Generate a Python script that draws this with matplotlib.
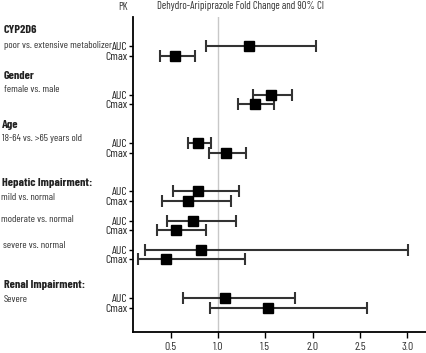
import matplotlib
matplotlib.use("Agg")
import matplotlib.pyplot as plt
from matplotlib import font_manager

fl = font_manager.fontManager.ttflist
names = {f.name for f in fl}
bold_names = {f.name for f in fl if f.weight in (700, 'bold')}
reg_prefs = ['Liberation Sans Narrow', 'Arial Narrow', 'Barlow Condensed', 'Archivo Narrow', 'Liberation Sans']
bold_prefs = ['Liberation Sans Narrow', 'Arial Narrow', 'Barlow Condensed', 'Liberation Sans']
REG = [p for p in reg_prefs if p in names][:1] + ['DejaVu Sans']
BOLD = [p for p in bold_prefs if p in bold_names][:1] + ['DejaVu Sans']
plt.rcParams['font.family'] = REG

# Data
group_titles = ["CYP2D6", "Gender", "Age", "Hepatic Impairment:", None, None, "Renal Impairment:"]
comparisons = ["poor vs. extensive metabolizer", "female vs. male", "18-64 vs. >65 years old",
               "mild vs. normal", "moderate vs. normal", "severe vs. normal", "Severe"]
row_pos = [3, 8, 13, 18, 21, 24, 29]   # AUC row index; Cmax is the next row
auc_est = [1.33, 1.56, 0.79, 0.79, 0.73, 0.82, 1.07]
auc_lo = [0.87, 1.37, 0.68, 0.52, 0.46, 0.23, 0.63]
auc_hi = [2.04, 1.78, 0.93, 1.22, 1.19, 3.01, 1.81]
cmax_est = [0.54, 1.39, 1.08, 0.68, 0.555, 0.45, 1.53]
cmax_lo = [0.39, 1.21, 0.90, 0.41, 0.35, 0.15, 0.91]
cmax_hi = [0.76, 1.59, 1.30, 1.14, 0.87, 1.28, 2.58]
xticks = [0.5, 1.0, 1.5, 2.0, 2.5, 3.0]

W, H = 426, 353
fig = plt.figure(figsize=(W / 100, H / 100), dpi=100)
renderer = fig.canvas.get_renderer()

def fit_size(text, target_px, family, weight='normal'):
    t = fig.text(0, 0, text, fontsize=10, family=family, fontweight=weight)
    w = t.get_window_extent(renderer).width
    t.remove()
    return 10 * target_px / w

FS = fit_size("poor vs. extensive metabolizer", 108, REG)
FSB = 0.5 * (fit_size("Hepatic Impairment:", 72, BOLD, 'bold') + fit_size("CYP2D6", 40, BOLD, 'bold'))
FST = fit_size("Dehydro-Aripiprazole Fold Change and 90% CI", 168, REG)
FSY = fit_size("Cmax", 22, REG)
FSX = fit_size("0.5", 12, REG)

ax = fig.add_axes([133 / W, (H - 332) / H, (W - 133) / W, (332 - 17) / H])
ax.axvline(1.0, color='#c8c8c8', lw=1.0, zorder=0)

ycols = []
ylabels = []
for i in range(len(row_pos)):
    ya = row_pos[i]
    yc = row_pos[i] + 1
    for y, e, lo, hi in [(ya, auc_est[i], auc_lo[i], auc_hi[i]), (yc, cmax_est[i], cmax_lo[i], cmax_hi[i])]:
        ax.errorbar([e], [y], xerr=[[e - lo], [hi - e]], fmt='s', color='#333333', ecolor='#333333',
                    mfc='black', mec='black', ms=7, elinewidth=1.5, capsize=4, capthick=1.5)
    ycols += [ya, yc]
    ylabels += ["AUC", "Cmax"]

ax.set_xlim(0.1, 3.2)
ax.set_ylim(32.5, 0)
ax.set_xticks(xticks)
ax.set_xticklabels([f"{t:.1f}" for t in xticks], fontsize=FSX, color='#333333')
ax.set_yticks(ycols)
ax.set_yticklabels(ylabels, fontsize=FSY, color='#222222')
ax.tick_params(axis='y', length=3, pad=1, width=1)
ax.tick_params(axis='x', length=4, width=1, pad=3)
for s in ['top', 'right']:
    ax.spines[s].set_visible(False)
ax.spines['left'].set_linewidth(1.3)
ax.spines['bottom'].set_linewidth(1.3)

def fy(py):
    return 1 - py / H

# Headers
fig.text(123 / W, fy(7), "PK", ha='center', va='center', fontsize=FST, color='#333333')
fig.text(157 / W, fy(6), "Dehydro-Aripiprazole Fold Change and 90% CI", ha='left', va='center',
         fontsize=FST, color='#333333')

title_x = [4, 4, 2, 2, None, None, 4]
title_y = [30, 76, 125, 183, None, None, 285]
comp_x = [4, 4, 2, 1, 1, 3, 4]
comp_y = [45, 90, 139, 198, 220, 245, 300]
for i in range(len(row_pos)):
    if group_titles[i]:
        fig.text(title_x[i] / W, fy(title_y[i]), group_titles[i], ha='left', va='center', fontsize=FSB,
                 family=BOLD, fontweight='bold', color='#222222')
    fig.text(comp_x[i] / W, fy(comp_y[i]), comparisons[i], ha='left', va='center', fontsize=FS,
             color='#333333')

fig.savefig("out.png", dpi=100)
